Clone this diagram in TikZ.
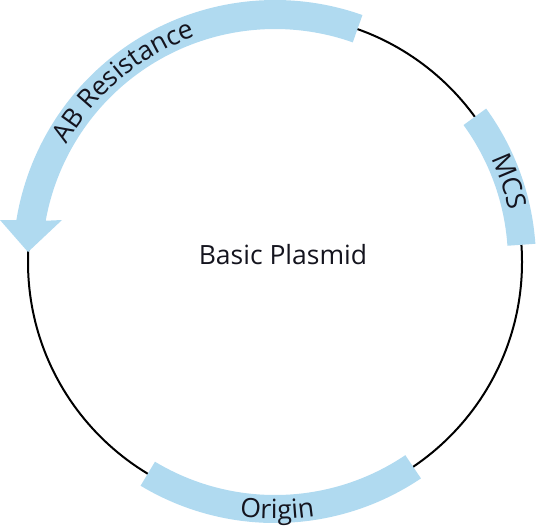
\documentclass[tikz,border=0pt]{standalone}
\usepackage{fontspec}
\setmainfont{Open Sans}
\usetikzlibrary{decorations.text}
\definecolor{bandblue}{RGB}{176,218,240}
\definecolor{txt}{RGB}{20,20,30}
\newcommand{\lblfont}{\fontsize{26.5}{31}\selectfont}
\tikzset{
  band/.style={fill=bandblue, draw=none},
  ring/.style={draw=black, line width=2pt},
  arctext/.style={decorate, decoration={text along path, text align=center, text color=txt}}
}
\begin{document}
\begin{tikzpicture}[x=1pt,y=1pt]
\useasboundingbox (0,0) rectangle (540,-528);
\coordinate (C) at (275,-262);
% backbone
\draw[ring] (C) circle[radius=247];
% AB Resistance arrow
\coordinate (abo) at ([shift={(70.5:262)}]C);
\coordinate (abi) at ([shift={(169.8:233)}]C);
\coordinate (hl) at (0,-220);
\coordinate (tip) at (28,-252);
\coordinate (hr) at (62,-220);
\fill[band] (abo) arc[start angle=70.5, end angle=170.8, radius=262] -- (hl) -- (tip) -- (hr) -- (abi) arc[start angle=169.8, end angle=70.5, radius=233] -- cycle;
% MCS band
\coordinate (mcs) at ([shift={(4:261)}]C);
\fill[band] (mcs) arc[start angle=4, end angle=36, radius=261] -- ([shift={(36:233)}]C) arc[start angle=36, end angle=4, radius=233] -- cycle;
% Origin band
\coordinate (ori) at ([shift={(239:261)}]C);
\fill[band] (ori) arc[start angle=239, end angle=304, radius=261] -- ([shift={(304:233)}]C) arc[start angle=304, end angle=239, radius=233] -- cycle;
% labels
\path[arctext, decoration={text={|\lblfont|AB Resistance}}] ([shift={(170:239)}]C) arc[start angle=170, end angle=90, radius=239];
\path[arctext, decoration={text={|\lblfont|MCS}}] ([shift={(39:240)}]C) arc[start angle=39, end angle=-1, radius=240];
\path[arctext, decoration={text={|\lblfont|Origin}}] ([shift={(250:257)}]C) arc[start angle=250, end angle=291, radius=257];
\node[text=txt, font=\lblfont] (title) at (283,-255) {Basic Plasmid};
\end{tikzpicture}
\end{document}
